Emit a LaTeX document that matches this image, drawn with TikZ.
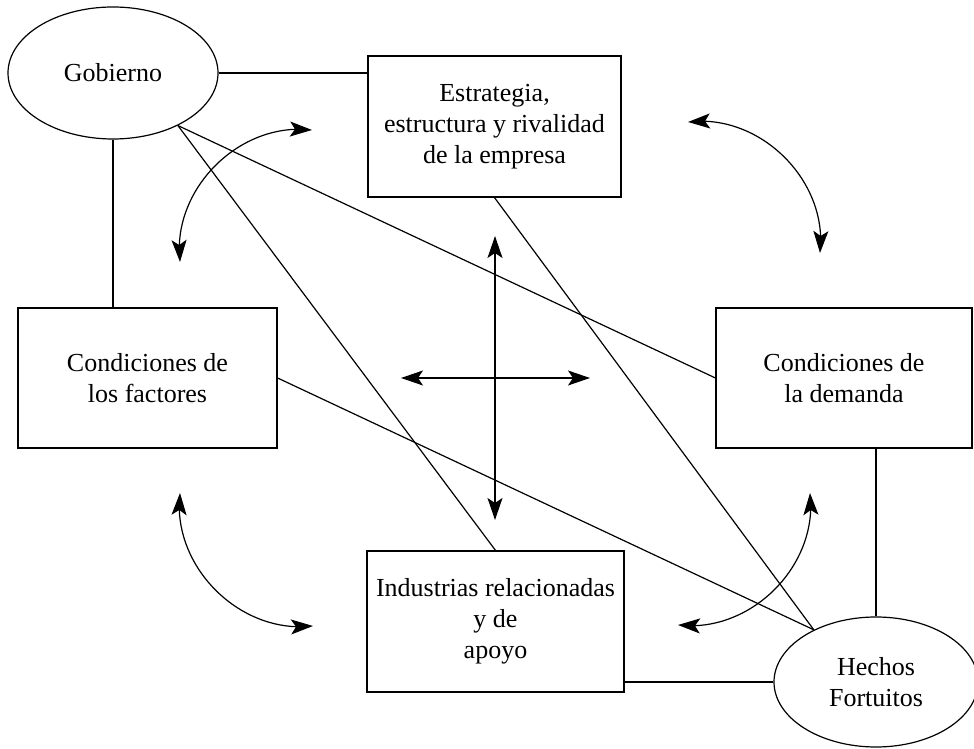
\documentclass[tikz,border=0pt]{standalone}
\usepackage{fontspec}
\setmainfont{Liberation Serif}
\usetikzlibrary{shapes.geometric,arrows.meta,bending}

\tikzset{
  every picture/.style={x=1pt,y=1pt},
  base/.style={draw=black,line width=1.2pt,align=center,inner sep=0pt,
    font=\fontsize{26}{31}\selectfont},
  box/.style={base,rectangle},
  oval/.style={base,ellipse},
  link/.style={line width=1.2pt},
  dbl/.style={line width=1.2pt,
    {Stealth[length=22pt,width=15pt,inset=5pt]}-{Stealth[length=22pt,width=15pt,inset=5pt]}}
}

\begin{document}
\begin{tikzpicture}
\useasboundingbox (0,0) rectangle (974,749);

% the six determinants
\node[oval,minimum width=210,minimum height=132] (gob) at (113,676) {Gobierno};
\node[box,minimum width=253,minimum height=141] (est) at (494.5,622.5)
  {Estrategia,\\estructura y rivalidad\\de la empresa};
\node[box,minimum width=259,minimum height=140] (fac) at (147.5,371)
  {Condiciones de\\los factores};
\node[box,minimum width=256,minimum height=140] (dem) at (844,371)
  {Condiciones de\\la demanda};
\node[box,minimum width=257,minimum height=141] (ind) at (495.5,127.5)
  {Industrias relacionadas\\y de\\apoyo};
\node[oval,minimum width=204,minimum height=130] (hec) at (876,67)
  {Hechos\\Fortuitos};

% plain connectors
\draw[link] (gob.east) -- (gob.east -| est.west);
\draw[link] (gob.south) -- (gob.south |- fac.north);
\draw[link] (gob.-39) -- (dem.west);
\draw[link] (gob.-39) -- (ind.north);
\draw[link] (est.south) -- (hec.140);
\draw[link] (fac.east) -- (hec.140);
\draw[link] (hec.north) -- (hec.north |- dem.south);
\draw[link] (hec.west) -- (hec.west -| ind.east);

% ends of the interaction arrows
\coordinate (a1s) at (180,487);
\coordinate (a1e) at (312,619);
\coordinate (a2s) at (820,496);
\coordinate (a2e) at (688,627);
\coordinate (a3s) at (180,256);
\coordinate (a3e) at (313,123);
\coordinate (a4s) at (810,256);
\coordinate (a4e) at (678,124);
\coordinate (vt) at (495,513);
\coordinate (vb) at (495,229);
\coordinate (hl) at (401,371);
\coordinate (hr) at (590,371);

% curved two-way arrows between the corners
\draw[dbl] (a1s) to[bend left=52] (a1e);
\draw[dbl] (a2s) to[bend right=52] (a2e);
\draw[dbl] (a3s) to[bend right=52] (a3e);
\draw[dbl] (a4s) to[bend left=52] (a4e);

% central cross
\draw[dbl] (vt) -- (vb);
\draw[dbl] (hl) -- (hr);
\end{tikzpicture}
\end{document}
